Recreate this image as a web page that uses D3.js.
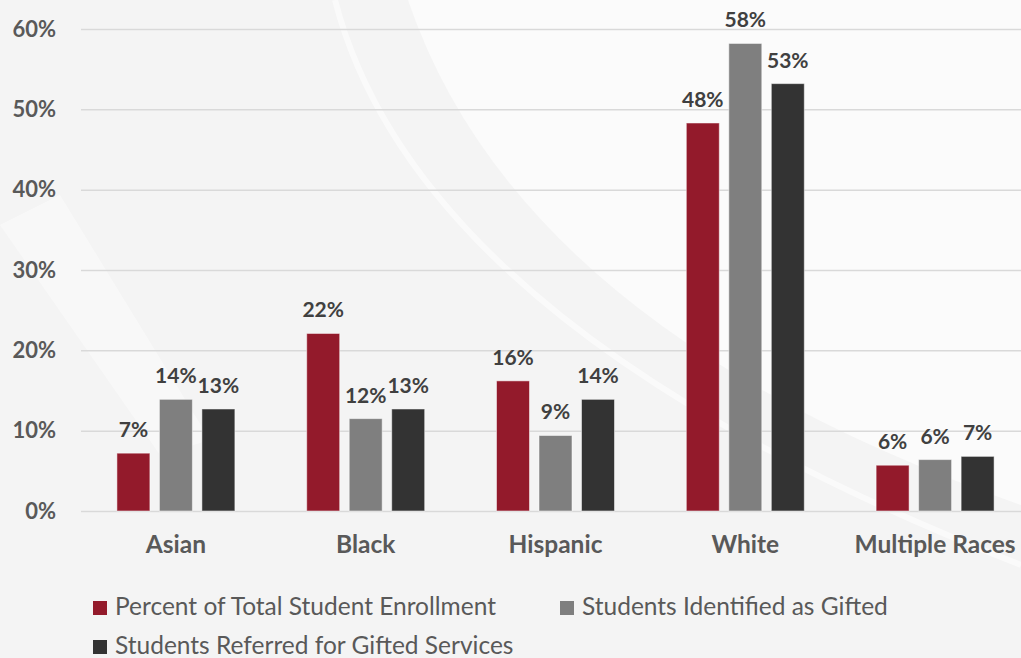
<!DOCTYPE html>
<html>
<head>
<meta charset="utf-8">
<script src="https://cdn.jsdelivr.net/npm/d3@7"></script>
<style>
  html, body { margin: 0; padding: 0; background: #f4f4f4; }
  svg { display: block; }
</style>
</head>
<body>
<svg id="chart"></svg>
<script>
// chart data
const categories = ["Asian", "Black", "Hispanic", "White", "Multiple Races"];
const seriesNames = ["Percent of Total Student Enrollment", "Students Identified as Gifted", "Students Referred for Gifted Services"];
const enrollment = [7.2, 22.1, 16.2, 48.3, 5.7];
const identified = [13.9, 11.5, 9.4, 58.2, 6.4];
const referred = [12.7, 12.7, 13.9, 53.2, 6.8];
const yTicks = [0, 10, 20, 30, 40, 50, 60];

const seriesColors = ["#931a2b", "#7f7f7f", "#333333"];

let layout = {"width": 1021,
              "height": 658,
              "left": 81,
              "right": 1030,
              "top": 29,
              "bottom": 511};

const svg = d3.select("#chart")
    .attr("width", layout.width)
    .attr("height", layout.height);

// faint background shapes
const bg = svg.append("g");
bg.append("rect")
    .attr("width", layout.width).attr("height", layout.height)
    .attr("fill", "#f4f4f4");
bg.append("path")
    .attr("d", "M408,0 Q520,330 1021,505 L1021,0 Z")
    .attr("fill", "#fbfbfb");
bg.append("path")
    .attr("d", "M335,0 Q420,330 1021,565")
    .attr("fill", "none")
    .attr("stroke", "#ffffff")
    .attr("stroke-width", 6)
    .attr("opacity", 0.55);
bg.append("path")
    .attr("d", "M0,225 L60,195 L210,440 L160,455 Z")
    .attr("fill", "#ffffff")
    .attr("opacity", 0.4);

const rows = categories.map((c, i) => ({
    category: c,
    values: [enrollment[i], identified[i], referred[i]]
}));

const x = d3.scaleBand()
    .domain(categories)
    .range([layout.left, layout.right])
    .padding(0);

const xSub = d3.scaleBand()
    .domain(d3.range(seriesNames.length))
    .range([0, x.bandwidth()])
    .paddingInner(0.224)
    .paddingOuter(0.845);

const y = d3.scaleLinear()
    .domain([0, 60])
    .range([layout.bottom, layout.top]);

// gridlines + y tick labels
const yAxis = svg.append("g")
    .attr("transform", `translate(${layout.left}, 0)`)
    .call(d3.axisLeft(y)
        .tickValues(yTicks)
        .tickSize(-(layout.right - layout.left))
        .tickPadding(25)
        .tickFormat(d => d + "%"));

yAxis.select(".domain").remove();
yAxis.selectAll(".tick line")
    .attr("stroke", "#d9d9d9")
    .attr("stroke-width", 1.5);
yAxis.selectAll(".tick text")
    .attr("fill", "#595959")
    .attr("font-family", "Lato, sans-serif")
    .attr("font-weight", "bold")
    .attr("font-size", "22px");

// bars
const groups = svg.selectAll(".group")
    .data(rows)
    .join("g")
    .attr("class", "group")
    .attr("transform", d => `translate(${x(d.category)}, 0)`);

groups.selectAll("rect")
    .data(d => d.values)
    .join("rect")
    .attr("x", (d, i) => xSub(i))
    .attr("y", d => y(d))
    .attr("width", xSub.bandwidth())
    .attr("height", d => y(0) - y(d))
    .attr("fill", (d, i) => seriesColors[i])
    .attr("stroke", "#ffffff")
    .attr("stroke-opacity", 0.5)
    .attr("stroke-width", 1);

groups.selectAll(".label")
    .data(d => d.values)
    .join("text")
    .attr("class", "label")
    .attr("x", (d, i) => xSub(i) + xSub.bandwidth() / 2)
    .attr("y", d => y(d) - 16)
    .attr("text-anchor", "middle")
    .attr("fill", "#404040")
    .attr("font-family", "Lato, sans-serif")
    .attr("font-weight", "bold")
    .attr("font-size", "21px")
    .text(d => Math.round(d) + "%");

// category labels
svg.append("g")
    .selectAll("text")
    .data(categories)
    .join("text")
    .attr("x", d => x(d) + x.bandwidth() / 2)
    .attr("y", 553)
    .attr("text-anchor", "middle")
    .attr("fill", "#595959")
    .attr("font-family", "Lato, sans-serif")
    .attr("font-weight", "bold")
    .attr("font-size", "24.5px")
    .text(d => d);

// legend
const legendPos = [[93, 601], [560, 601], [93, 640]];

const legend = svg.append("g")
    .selectAll("g")
    .data(seriesNames)
    .join("g")
    .attr("transform", (d, i) => `translate(${legendPos[i][0]}, ${legendPos[i][1]})`);

legend.append("rect")
    .attr("width", 14)
    .attr("height", 14)
    .attr("fill", (d, i) => seriesColors[i]);

legend.append("text")
    .attr("x", 22)
    .attr("y", 14)
    .attr("fill", "#595959")
    .attr("font-family", "Lato, sans-serif")
    .attr("font-size", "24.5px")
    .text(d => d);
</script>
</body>
</html>
